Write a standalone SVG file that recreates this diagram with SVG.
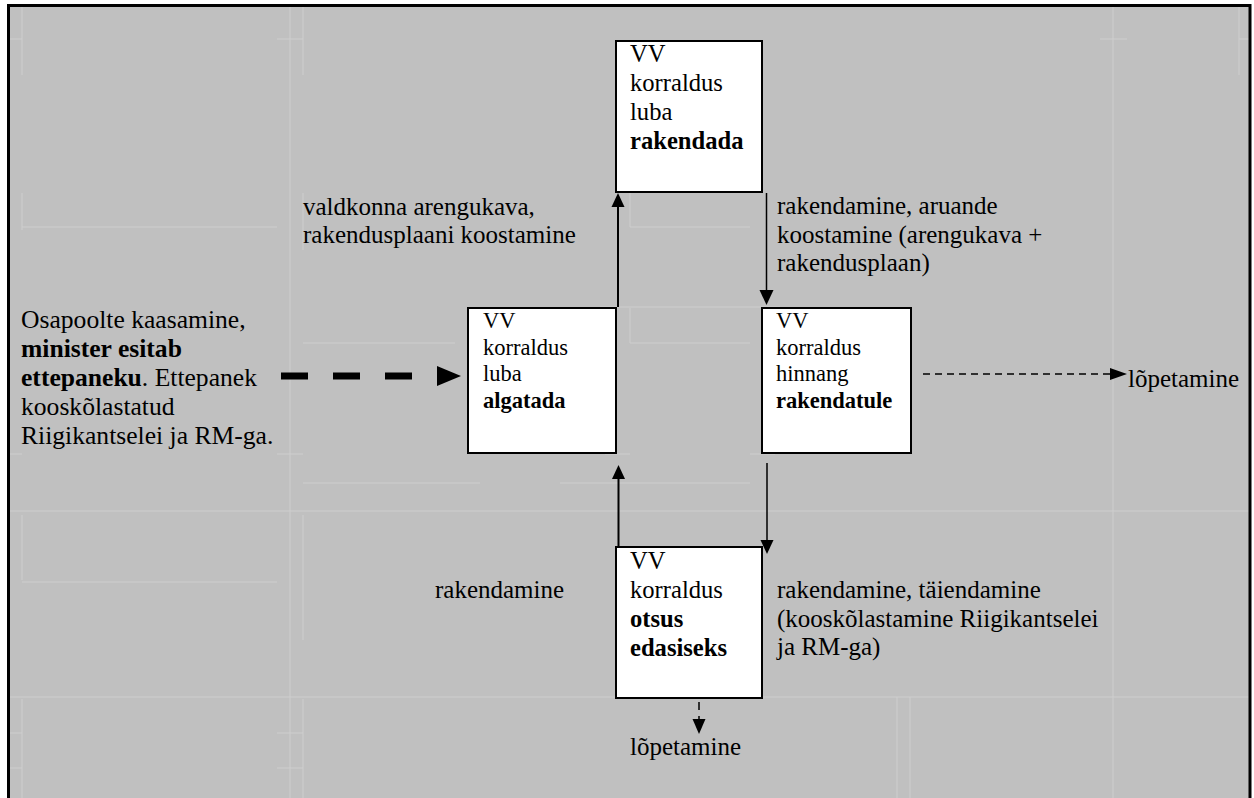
<svg xmlns="http://www.w3.org/2000/svg" width="1254" height="798" viewBox="0 0 1254 798" font-family="'Liberation Serif', 'DejaVu Serif', serif">
  <style>
    text { font-family: "Liberation Serif", "DejaVu Serif", serif; fill: #000; }
    .big { font-size: 25px; }
    .box-t { font-size: 24.6px; }
    .lead { font-size: 25.6px; }
    .mid { font-size: 22.5px; }
    .b { font-weight: bold; }
    .box { fill: #fff; stroke: #000; stroke-width: 2; }
    .grid line { stroke: #cecece; stroke-width: 1; }
    .conn line { stroke: #000; fill: none; }
    .head { fill: #000; }
  </style>

  <!-- page background and frame -->
  <rect x="0" y="0" width="1254" height="798" fill="#fff"/>
  <rect x="8" y="5" width="1242" height="800" fill="#c0c0c0"/>

  <!-- faint table-cell rulings -->
  <g class="grid">
    <line x1="290" y1="5" x2="290" y2="798"/>
    <line x1="1113" y1="5" x2="1113" y2="798"/>
    <line x1="303" y1="5" x2="303" y2="75"/>
    <line x1="303" y1="193" x2="303" y2="250"/>
    <line x1="22" y1="5" x2="22" y2="75"/>
    <line x1="22" y1="193" x2="22" y2="230"/>
    <line x1="1239" y1="5" x2="1239" y2="75"/>
    <line x1="8" y1="39" x2="22" y2="39"/>
    <line x1="277" y1="39" x2="303" y2="39"/>
    <line x1="1100" y1="39" x2="1127" y2="39"/>
    <line x1="1239" y1="39" x2="1250" y2="39"/>
    <line x1="22" y1="227" x2="277" y2="227"/>
    <line x1="630" y1="193" x2="630" y2="227"/>
    <line x1="630" y1="227" x2="750" y2="227"/>
    <line x1="600" y1="307" x2="780" y2="307"/>
    <line x1="303" y1="343" x2="455" y2="343"/>
    <line x1="630" y1="343" x2="750" y2="343"/>
    <line x1="630" y1="308" x2="630" y2="343"/>
    <line x1="8" y1="454" x2="22" y2="454"/>
    <line x1="277" y1="454" x2="303" y2="454"/>
    <line x1="605" y1="454" x2="630" y2="454"/>
    <line x1="750" y1="454" x2="775" y2="454"/>
    <line x1="303" y1="483" x2="480" y2="483"/>
    <line x1="560" y1="483" x2="750" y2="483"/>
    <line x1="8" y1="511" x2="1250" y2="511"/>
    <line x1="22" y1="515" x2="22" y2="580"/>
    <line x1="303" y1="515" x2="303" y2="640"/>
    <line x1="22" y1="582" x2="277" y2="582"/>
    <line x1="8" y1="697" x2="1250" y2="697"/>
    <line x1="897" y1="697" x2="897" y2="798"/>
    <line x1="910" y1="697" x2="910" y2="798"/>
    <line x1="22" y1="699" x2="22" y2="798"/>
    <line x1="303" y1="699" x2="303" y2="798"/>
    <line x1="8" y1="733" x2="22" y2="733"/>
    <line x1="277" y1="733" x2="303" y2="733"/>
    <line x1="8" y1="768" x2="22" y2="768"/>
    <line x1="277" y1="768" x2="303" y2="768"/>
  </g>

  <!-- frame -->
  <path d="M8.5 798 V5.5 H1250 V798" fill="none" stroke="#000" stroke-width="3"/>

  <!-- connectors -->
  <g id="connectors" class="conn">
    <!-- algatada -> rakendada -->
    <line x1="618" y1="307" x2="618" y2="205" stroke-width="2"/>
    <polygon class="head" points="618,193 611.5,207 624.5,207"/>
    <!-- rakendada -> rakendatule -->
    <line x1="766.5" y1="193" x2="766.5" y2="292" stroke-width="1.5"/>
    <polygon class="head" points="766.5,305 759.5,290 773.5,290"/>
    <!-- otsus edasiseks -> algatada -->
    <line x1="618.5" y1="555" x2="618.5" y2="478" stroke-width="2"/>
    <polygon class="head" points="618.5,465 612,479 625,479"/>
    <!-- rakendatule -> otsus edasiseks -->
    <line x1="767" y1="463" x2="767" y2="542" stroke-width="1.5"/>
    <polygon class="head" points="767,554 760.5,540 773.5,540"/>
    <!-- otsus edasiseks -> lõpetamine -->
    <line x1="699" y1="688" x2="699" y2="720" stroke-width="1.5" stroke-dasharray="8 6"/>
    <polygon class="head" points="699,734 692.5,719 705.5,719"/>
    <!-- rakendatule -> lõpetamine -->
    <line x1="923" y1="374" x2="1111" y2="374" stroke-width="1.5" stroke-dasharray="7 5"/>
    <polygon class="head" points="1127,374 1110,368 1110,380"/>
    <!-- ettepanek -> algatada -->
    <line x1="281" y1="376" x2="412" y2="376" stroke-width="7" stroke-dasharray="27 25"/>
    <polygon class="head" points="461,376 437,366 437,386"/>
  </g>

  <!-- nodes -->
  <g id="node-rakendada">
    <rect class="box" x="616" y="41" width="146" height="151"/>
    <text class="box-t" x="630" y="62">VV</text>
    <text class="box-t" x="630" y="91">korraldus</text>
    <text class="box-t" x="630" y="120">luba</text>
    <text class="box-t b" x="630" y="149">rakendada</text>
  </g>

  <g id="node-algatada">
    <rect class="box" x="468" y="308" width="148" height="145"/>
    <text class="mid" x="483" y="328">VV</text>
    <text class="mid" x="483" y="354.5">korraldus</text>
    <text class="mid" x="483" y="381">luba</text>
    <text class="mid b" x="483" y="407.5">algatada</text>
  </g>

  <g id="node-rakendatule">
    <rect class="box" x="762" y="308" width="149" height="145"/>
    <text class="mid" x="776" y="328">VV</text>
    <text class="mid" x="776" y="354.5">korraldus</text>
    <text class="mid" x="776" y="381">hinnang</text>
    <text class="mid b" x="776" y="407.5">rakendatule</text>
  </g>

  <g id="node-otsus">
    <rect class="box" x="616" y="547" width="146" height="151"/>
    <text class="box-t" x="630" y="569">VV</text>
    <text class="box-t" x="630" y="598">korraldus</text>
    <text class="box-t b" x="630" y="627">otsus</text>
    <text class="box-t b" x="630" y="656">edasiseks</text>
  </g>

  <g id="node-ettepanek">
    <text class="lead" x="21" y="328">Osapoolte kaasamine,</text>
    <text class="lead b" x="21" y="357">minister esitab</text>
    <text class="lead" x="21" y="386"><tspan class="b">ettepaneku</tspan>. Ettepanek</text>
    <text class="lead" x="21" y="415">kooskõlastatud</text>
    <text class="lead" x="21" y="444">Riigikantselei ja RM-ga.</text>
  </g>

  <g id="node-lopetamine-right">
    <text class="big" x="1128" y="387">lõpetamine</text>
  </g>

  <g id="node-lopetamine-bottom">
    <text class="big" x="630" y="755">lõpetamine</text>
  </g>

  <!-- connector labels -->
  <g id="labels">
    <text class="big" x="303" y="215">valdkonna arengukava,</text>
    <text class="big" x="303" y="243">rakendusplaani koostamine</text>
    <text class="big" x="777" y="214">rakendamine, aruande</text>
    <text class="big" x="777" y="243">koostamine (arengukava +</text>
    <text class="big" x="777" y="271">rakendusplaan)</text>
    <text class="big" x="435" y="598">rakendamine</text>
    <text class="big" x="777" y="598">rakendamine, täiendamine</text>
    <text class="big" x="777" y="627">(kooskõlastamine Riigikantselei</text>
    <text class="big" x="777" y="655">ja RM-ga)</text>
  </g>
</svg>
